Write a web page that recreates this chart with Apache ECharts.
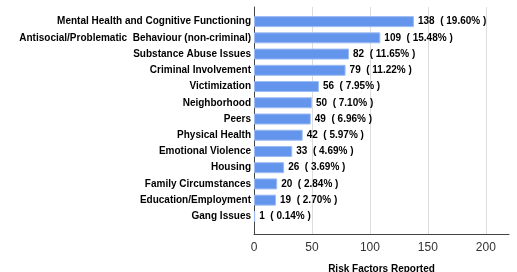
<!DOCTYPE html>
<html>
<head>
<meta charset="utf-8">
<script src="https://cdn.jsdelivr.net/npm/echarts@6/dist/echarts.min.js"></script>
<style>
  html, body { margin: 0; padding: 0; background: #fff; }
  #chart { width: 517px; height: 272px; }
</style>
</head>
<body>
<div id="chart"></div>
<script>
// data, top to bottom
const categories = [
  'Mental Health and Cognitive Functioning',
  'Antisocial/Problematic  Behaviour (non-criminal)',
  'Substance Abuse Issues',
  'Criminal Involvement',
  'Victimization',
  'Neighborhood',
  'Peers',
  'Physical Health',
  'Emotional Violence',
  'Housing',
  'Family Circumstances',
  'Education/Employment',
  'Gang Issues'
]
const counts = [138, 109, 82, 79, 56, 50, 49, 42, 33, 26, 20, 19, 1]
const percents = ['19.60', '15.48', '11.65', '11.22', '7.95', '7.10', '6.96', '5.97', '4.69', '3.69', '2.84', '2.70', '0.14']
const xTicks = [0, 50, 100, 150, 200]

let chartDom = document.getElementById('chart')
let myChart = echarts.init(chartDom)

const labelFont = {
  fontFamily: 'Liberation Sans',
  fontWeight: 'bold',
  fontSize: 10,
  color: '#000'
}

let option = {
  animation: false,
  grid: [
    // bars
    {left: 254, right: 8, top: 13.5, height: 211, outerBoundsMode: 'none', containLabel: false},
    // axes frame
    {left: 254, right: 8, top: 7, bottom: 38, outerBoundsMode: 'none', containLabel: false}
  ],
  xAxis: [
    {
      gridIndex: 0,
      type: 'value',
      min: 0,
      max: 220,
      show: false
    },
    {
      gridIndex: 1,
      type: 'value',
      min: 0,
      max: 220,
      interval: 50,
      name: 'Risk Factors Reported',
      nameLocation: 'middle',
      nameGap: 30,
      nameTextStyle: labelFont,
      axisLine: {show: true, lineStyle: {color: '#444'}},
      axisTick: {show: false},
      axisLabel: {
        color: '#333',
        fontSize: 12,
        fontFamily: 'Liberation Sans',
        margin: 8,
        showMaxLabel: false,
        formatter: v => xTicks.indexOf(v) >= 0 ? String(v) : ''
      },
      splitLine: {show: true, showMaxLine: false, lineStyle: {color: '#dcdcdc'}}
    }
  ],
  yAxis: [
    {
      gridIndex: 0,
      type: 'category',
      inverse: true,
      data: categories,
      axisLine: {show: false},
      axisTick: {show: false},
      axisLabel: Object.assign({margin: 3}, labelFont)
    },
    {
      gridIndex: 1,
      type: 'value',
      min: 0,
      max: 1,
      axisLine: {show: true, lineStyle: {color: '#444'}},
      axisTick: {show: false},
      axisLabel: {show: false},
      splitLine: {show: false}
    }
  ],
  series: [
    {
      type: 'bar',
      xAxisIndex: 0,
      yAxisIndex: 0,
      data: counts,
      barWidth: 11,
      itemStyle: {
        color: '#6495ed',
        borderColor: '#9dbcf3',
        borderWidth: 1
      },
      label: Object.assign({
        show: true,
        position: 'right',
        distance: 4,
        formatter: p => p.value + '  ( ' + percents[p.dataIndex] + '% )'
      }, labelFont)
    }
  ]
}
myChart.setOption(option)
</script>
</body>
</html>
